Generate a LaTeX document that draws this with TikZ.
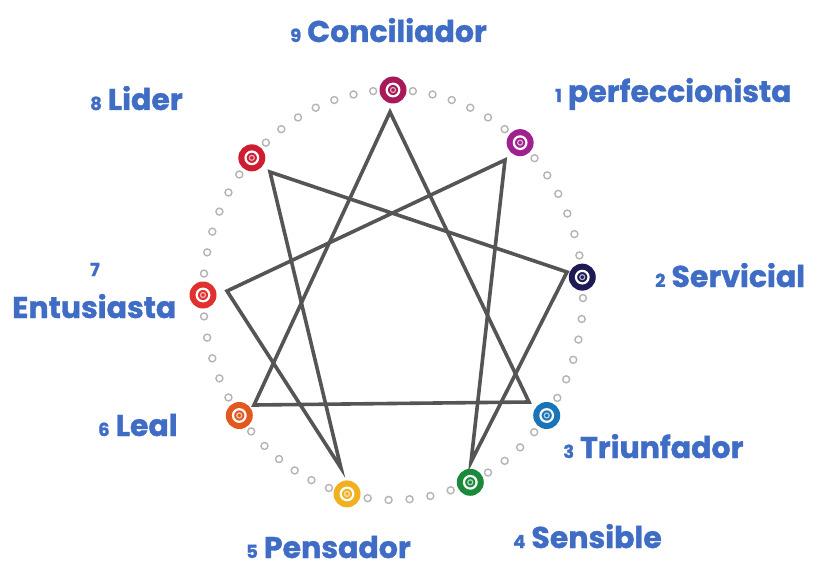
\documentclass[tikz,border=0pt]{standalone}
\usepackage{fontspec}
\setmainfont{Poppins}[BoldFont={* Bold}, BoldFeatures={FakeBold=1.2}]
\definecolor{azulTexto}{HTML}{3F6CC4}
\definecolor{lineaGris}{HTML}{555555}
\definecolor{puntoGris}{HTML}{B4B4B4}
\definecolor{colNueve}{HTML}{A8195A}
\definecolor{colUno}{HTML}{A0208E}
\definecolor{colDos}{HTML}{1E1A55}
\definecolor{colTres}{HTML}{1A75B8}
\definecolor{colCuatro}{HTML}{1A8A3A}
\definecolor{colCinco}{HTML}{F0B020}
\definecolor{colSeis}{HTML}{E2581E}
\definecolor{colSiete}{HTML}{E03030}
\definecolor{colOcho}{HTML}{D01C30}
\newcommand{\etq}[2]{{\fontsize{18}{20}\selectfont #1}\hspace{6pt}#2}

\begin{document}
\begin{tikzpicture}[x=1pt, y=-1pt,
    etiqueta/.style={text=azulTexto, font=\fontsize{30}{32}\selectfont\bfseries,
      inner sep=0pt, anchor=base west},
    marcador/.style={circle, fill=#1, minimum size=27pt, inner sep=0pt,
      path picture={
        \draw[white, line width=2.2pt] (path picture bounding box.center) circle (6.3pt);
        \draw[#1!35!white, line width=1.2pt] (path picture bounding box.center) circle (2.5pt);
      }},
    punto/.style={draw=puntoGris, line width=1.4pt},
    arista/.style={lineaGris, line width=3.6pt, line join=miter}]

  \useasboundingbox (0,0) rectangle (821,567);

  \def\CX{393}   % centro x
  \def\CY{295}   % centro y
  \def\RX{190}   % radio x
  \def\RY{205}   % radio y

  % ── Puntos grises entre marcadores ───────────────────────
  \foreach \a/\b/\n in {90/48/6, 48/5/6, 5/-36/6, -36/-66/4,
      -66/-104/5, -104/-144/6, -144/-180/5, -180/-222/6, -222/-270/7}{
    \foreach \k in {1,...,\n}{
      \pgfmathsetmacro\t{\a+(\b-\a)*\k/(\n+1)}
      \draw[punto] ({\CX+\RX*cos(\t)},{\CY-\RY*sin(\t)}) circle (3.5pt);
    }
  }

  % ── Vértices de las líneas ───────────────────────────────
  \coordinate (v9) at (390,112);
  \coordinate (v1) at (505,160);
  \coordinate (v2) at (567,272);
  \coordinate (v3) at (529,402);
  \coordinate (v4) at (471,462);
  \coordinate (v5) at (341,468);
  \coordinate (v6) at (254,405);
  \coordinate (v7) at (227,291);
  \coordinate (v8) at (270,172);

  % ── Triángulo y héxada ───────────────────────────────────
  \draw[arista] (v9) -- (v3) -- (v6) -- cycle;
  \draw[arista] (v1) -- (v4) -- (v2) -- (v8) -- (v5) -- (v7) -- cycle;

  % ── Marcadores ───────────────────────────────────────────
  \foreach \nom/\ang/\col in {m9/90/colNueve, m1/48/colUno, m2/5/colDos,
      m3/-36/colTres, m4/-66/colCuatro, m5/-104/colCinco,
      m6/-144/colSeis, m7/180/colSiete, m8/138/colOcho}{
    \node[marcador=\col] (\nom) at ({\CX+\RX*cos(\ang)},{\CY-\RY*sin(\ang)}) {};
  }

  % ── Etiquetas ────────────────────────────────────────────
  \node[etiqueta] (t9) at (290,42)  {\etq{9}{Conciliador}};
  \node[etiqueta] (t1) at (555,102) {\etq{1}{perfeccionista}};
  \node[etiqueta] (t8) at (90,110)  {\etq{8}{Lider}};
  \node[etiqueta] (t2) at (655,287) {\etq{2}{Servicial}};
  \node[etiqueta, anchor=base] (t7n) at (95,276)
    {\fontsize{18}{20}\selectfont 7};
  \node[etiqueta] (t7) at (12,318)  {Entusiasta};
  \node[etiqueta] (t6) at (98,436)  {\etq{6}{Leal}};
  \node[etiqueta] (t3) at (563,458) {\etq{3}{Triunfador}};
  \node[etiqueta] (t4) at (513,548) {\etq{4}{Sensible}};
  \node[etiqueta] (t5) at (246,558) {\etq{5}{Pensador}};

\end{tikzpicture}
\end{document}
